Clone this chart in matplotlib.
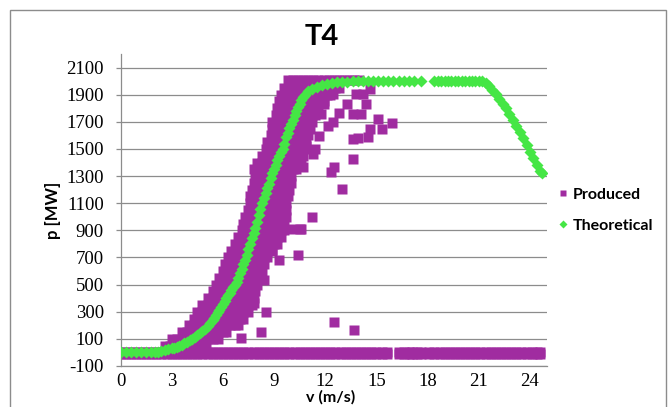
import matplotlib.pyplot as plt
from matplotlib.patches import Rectangle
from matplotlib.lines import Line2D

plt.rcParams['axes.unicode_minus'] = False

#------------------------------------------------------------
# data (v in m/s, p in MW)
x_ticks = [0, 3, 6, 9, 12, 15, 18, 21, 24]
y_ticks = [-100, 100, 300, 500, 700, 900, 1100, 1300, 1500, 1700, 1900, 2100]

# theoretical power curve
theo_v = [0.0, 0.3, 0.6, 0.9, 1.2, 1.5, 1.8, 2.0, 2.2, 2.4, 2.6, 2.8, 3.0,
          3.15, 3.3, 3.45, 3.6, 3.75, 3.9, 4.05, 4.2, 4.35, 4.5, 4.65, 4.8,
          4.95, 5.1, 5.25, 5.4, 5.5, 5.6, 5.7, 5.8, 5.9, 6.0, 6.1, 6.2, 6.3,
          6.4, 6.5, 6.6, 6.7, 6.8, 6.9, 7.0, 7.1,
          7.2, 7.3, 7.4, 7.5, 7.6, 7.7, 7.8, 7.9, 8.0, 8.1, 8.2, 8.3, 8.4, 8.5,
          8.6, 8.7, 8.8, 8.9, 9.0, 9.1, 9.2, 9.3, 9.4, 9.5, 9.6, 9.7, 9.8, 9.9,
          10.0, 10.1, 10.2, 10.3, 10.4, 10.5, 10.6, 10.7, 10.8, 11.0, 11.2, 11.5,
          11.8, 12.1, 12.4, 12.7, 13.0, 13.3, 13.6, 13.9, 14.2, 14.5, 14.8, 15.1,
          15.4, 15.7, 16.0, 16.3, 16.6, 16.9, 17.2, 17.6, 18.4, 18.6, 18.8, 19.0,
          19.2, 19.4, 19.6, 19.8, 20.0, 20.2, 20.4, 20.6, 20.8, 21.0, 21.2, 21.4,
          21.6, 21.8, 22.0, 22.2, 22.4, 22.6, 22.8, 23.0, 23.2, 23.4, 23.6, 23.8,
          24.0, 24.2, 24.4, 24.6, 24.7]
theo_p = [0, 0, 0, 0, 0, 0, 2, 4, 6, 10, 15, 22, 30,
          36, 42, 50, 58, 68, 78, 89, 100, 114, 128, 143, 158,
          175, 192, 215, 240, 257, 275, 295, 315, 335, 355, 378, 400, 420,
          440, 460, 480, 500, 520, 550, 585, 615,
          650, 685, 715, 760, 800, 840, 880, 920, 965, 1010, 1055, 1100, 1135, 1175,
          1210, 1245, 1285, 1320, 1350, 1385, 1420, 1445, 1475, 1500, 1540, 1585, 1620, 1655,
          1685, 1715, 1750, 1780, 1810, 1835, 1860, 1885, 1900, 1925, 1945, 1960,
          1972, 1980, 1986, 1990, 1994, 1997, 2000, 2000, 2000, 2000, 2000, 2000,
          2000, 2000, 2000, 2000, 2000, 2000, 2000, 2000, 2000, 2000, 2000, 2000,
          2000, 2000, 2000, 2000, 2000, 2000, 2000, 2000, 2000, 2000, 2000, 1985,
          1965, 1935, 1905, 1870, 1835, 1800, 1755, 1715, 1670, 1625, 1580, 1530,
          1480, 1430, 1385, 1340, 1320]

# produced power: the zero-output band
zero_v = [0.0, 0.3, 0.6, 0.9, 1.2, 1.5, 1.8, 2.1, 2.4, 2.7, 3.0, 3.3, 3.6, 3.9,
          4.2, 4.5, 4.8, 5.1, 5.4, 5.7, 6.0, 6.3, 6.6, 6.9, 7.2, 7.5, 7.8, 8.1,
          8.4, 8.7, 9.0, 9.3, 9.6, 9.9, 10.2, 10.5, 10.8, 11.1, 11.4, 11.7, 12.0,
          12.3, 12.6, 12.9, 13.2, 13.5, 13.8, 14.1, 14.4, 14.7, 15.0, 15.3, 15.6,
          16.3, 16.6, 16.9, 17.1, 17.4, 17.6, 18.1, 18.4, 18.7, 19.0, 19.3, 19.6,
          19.9, 20.2, 20.5, 20.8, 21.1, 21.4, 21.7, 22.0, 22.3, 22.6, 22.9, 23.2,
          23.5, 23.8, 24.1, 24.4, 24.6]
zero_levels = [2, -12]

# produced power: dense cloud, one row of wind speeds per power level
cloud_levels = [50, 100, 150, 200, 250, 300, 350, 400, 450, 500, 550, 600, 650,
                700, 750, 800, 850, 900, 950, 1000, 1050, 1100, 1150, 1200, 1250,
                1300, 1350, 1400, 1450, 1500, 1550, 1600, 1650, 1700, 1750, 1800,
                1850, 1900, 1950, 2005]
cloud_rows = [
    [2.6, 2.9, 3.2, 3.5, 3.8, 4.1, 4.4, 4.7, 5.0],
    [3.0, 3.3, 3.6, 3.9, 4.2, 4.5, 4.8, 5.1, 5.4, 5.7],
    [3.6, 3.9, 4.2, 4.5, 4.8, 5.1, 5.4, 5.7, 6.0, 6.2],
    [4.0, 4.3, 4.6, 4.9, 5.2, 5.5, 5.8, 6.1, 6.4, 6.7, 6.9],
    [4.3, 4.6, 4.9, 5.2, 5.5, 5.8, 6.1, 6.4, 6.7, 7.0, 7.2],
    [4.5, 4.8, 5.1, 5.4, 5.7, 6.0, 6.3, 6.6, 6.9, 7.2, 7.5],
    [4.8, 5.1, 5.4, 5.7, 6.0, 6.3, 6.6, 6.9, 7.2, 7.5, 7.7],
    [5.1, 5.4, 5.7, 6.0, 6.3, 6.6, 6.9, 7.2, 7.5, 7.8],
    [5.4, 5.7, 6.0, 6.3, 6.6, 6.9, 7.2, 7.5, 7.9],
    [5.6, 5.9, 6.2, 6.5, 6.8, 7.1, 7.4, 7.7, 8.0],
    [5.8, 6.1, 6.4, 6.7, 7.0, 7.3, 7.6, 7.9, 8.2],
    [6.0, 6.3, 6.6, 6.9, 7.2, 7.5, 7.8, 8.1, 8.3],
    [6.1, 6.4, 6.7, 7.0, 7.3, 7.6, 7.9, 8.2, 8.4],
    [6.3, 6.6, 6.9, 7.2, 7.5, 7.8, 8.1, 8.4, 8.6],
    [6.5, 6.8, 7.1, 7.4, 7.7, 8.0, 8.3, 8.6, 8.9],
    [6.7, 7.0, 7.3, 7.6, 7.9, 8.2, 8.5, 8.8, 9.0, 9.2],
    [6.9, 7.2, 7.5, 7.8, 8.1, 8.4, 8.7, 9.0, 9.2, 9.4],
    [7.1, 7.3, 7.6, 7.9, 8.2, 8.5, 8.8, 9.1, 9.4, 9.6],
    [7.2, 7.5, 7.8, 8.1, 8.4, 8.7, 9.0, 9.3, 9.6],
    [7.3, 7.6, 7.9, 8.2, 8.5, 8.8, 9.1, 9.4, 9.7],
    [7.5, 7.8, 8.1, 8.4, 8.7, 9.0, 9.3, 9.5, 9.7],
    [7.6, 7.9, 8.2, 8.5, 8.8, 9.1, 9.4, 9.7],
    [7.6, 7.9, 8.2, 8.5, 8.8, 9.1, 9.4, 9.6, 9.8],
    [7.7, 8.0, 8.3, 8.6, 8.9, 9.2, 9.5, 9.7, 9.9],
    [7.8, 8.1, 8.4, 8.7, 9.0, 9.3, 9.6, 9.8, 10.0],
    [7.9, 8.2, 8.5, 8.8, 9.1, 9.4, 9.7, 10.0],
    [7.8, 8.1, 8.4, 8.7, 9.0, 9.3, 9.6, 9.9, 10.1, 10.3],
    [8.0, 8.3, 8.6, 8.9, 9.2, 9.5, 9.8, 10.1, 10.4, 10.6],
    [8.3, 8.6, 8.9, 9.2, 9.5, 9.8, 10.1, 10.4, 10.7],
    [8.5, 8.8, 9.1, 9.4, 9.7, 10.0, 10.3, 10.6, 10.8],
    [8.6, 8.9, 9.2, 9.5, 9.8, 10.1, 10.4, 10.7, 10.9],
    [8.8, 9.1, 9.4, 9.7, 10.0, 10.3, 10.6, 10.8, 11.0],
    [8.9, 9.2, 9.5, 9.8, 10.1, 10.4, 10.7, 10.9, 11.1],
    [8.9, 9.2, 9.5, 9.8, 10.1, 10.4, 10.7, 11.0, 11.2],
    [9.1, 9.4, 9.7, 10.0, 10.3, 10.6, 10.9, 11.2, 11.4],
    [9.2, 9.5, 9.8, 10.1, 10.4, 10.7, 11.0, 11.3, 11.6],
    [9.3, 9.6, 9.9, 10.2, 10.5, 10.8, 11.1, 11.4, 11.7, 11.9],
    [9.4, 9.7, 10.0, 10.3, 10.6, 10.9, 11.2, 11.5, 11.8, 12.1, 12.3],
    [9.6, 9.9, 10.2, 10.5, 10.8, 11.1, 11.4, 11.7, 12.0, 12.3, 12.6, 12.8],
    [9.8, 10.1, 10.4, 10.7, 11.0, 11.3, 11.6, 11.9, 12.2, 12.5, 12.8, 13.1,
     13.4, 13.7, 14.0],
]

# produced power: scattered points away from the cloud
outlier_v = [12.45, 11.95, 11.76, 12.83, 13.3, 12.15, 12.45, 13.6, 13.8, 14.2,
             14.4, 14.1, 14.6, 15.1, 15.3, 15.9, 14.6, 14.5, 13.6, 13.9, 11.4,
             11.3, 10.9, 11.65, 13.6, 12.5, 12.35, 10.7, 13.0, 11.2, 10.6, 12.5,
             13.7, 7.85, 8.5, 8.25, 7.07, 8.4, 9.3, 10.4, 10.0, 10.5, 8.9]
outlier_p = [1905, 1830, 1758, 1762, 1830, 1672, 1697, 1758, 1905, 1905,
             1830, 1758, 1940, 1722, 1649, 1693, 1649, 1586, 1575, 1582, 1500,
             1463, 1524, 1598, 1427, 1365, 1328, 1365, 1206, 998, 912, 226,
             165, 361, 299, 152, 104, 532, 680, 716, 912, 912, 753]

purple = '#A02CA0'
green = '#45E645'
grey = '#8C8C8C'

#------------------------------------------------------------
W, H = 672, 407
fig = plt.figure(figsize=(W / 100, H / 100), dpi=100)
ax = fig.add_axes([120.5 / W, 1 - 366 / H, (547 - 120.5) / W, (366 - 54) / H])

prod_v, prod_p = [], []
for lvl in zero_levels:
    prod_v += zero_v
    prod_p += [lvl] * len(zero_v)
for lvl, row in zip(cloud_levels, cloud_rows):
    prod_v += row
    prod_p += [lvl] * len(row)
prod_v += outlier_v
prod_p += outlier_p

ax.plot(prod_v, prod_p, ls='none', marker='s', ms=7.4, color=purple,
        mec='none', zorder=2)
ax.plot(theo_v, theo_p, ls='none', marker='D', ms=6.4, color=green,
        mec='none', zorder=3)

ax.set_xlim(0, 25)
ax.set_ylim(-100, 2200)
ax.set_xticks(x_ticks)
ax.set_yticks(y_ticks)
ax.grid(axis='y', color=grey, lw=0.9)
ax.set_axisbelow(True)
for s in ['top', 'right']:
    ax.spines[s].set_visible(False)
for s in ['left', 'bottom']:
    ax.spines[s].set_color(grey)
    ax.spines[s].set_linewidth(0.9)

ax.tick_params(axis='y', length=3.6, width=0.9, color=grey, pad=8.5)
ax.tick_params(axis='x', length=0, pad=5)
for lab in ax.get_xticklabels() + ax.get_yticklabels():
    lab.set_family('Liberation Serif')
    lab.set_fontsize(13.5)

fig.text(322 / W, 1 - 37 / H, 'T4', ha='center', va='center',
         family='Lato', fontweight='bold', fontsize=21)
fig.text(53 / W, 1 - 210 / H, 'p [MW]', ha='center', va='center', rotation=90,
         family='Lato', fontweight='bold', fontsize=12)
fig.text(331 / W, 1 - 397 / H, 'v (m/s)', ha='center', va='center',
         family='Lato', fontweight='bold', fontsize=11.5)

handles = [Line2D([], [], ls='none', marker='s', ms=5, color=purple, mec='none'),
           Line2D([], [], ls='none', marker='D', ms=4.2, color=green, mec='none')]
fig.legend(handles, ['Produced', 'Theoretical'], loc='center left',
           bbox_to_anchor=(544 / W, 1 - 210 / H), frameon=False,
           handlelength=0.6, handletextpad=0.3, labelspacing=1.05,
           prop={'family': 'Lato', 'weight': 'bold', 'size': 11.5})

# chart-area border
fig.patches.append(Rectangle((10 / W, -0.05), (666 - 10) / W, 1.05 - 10 / H,
                             transform=fig.transFigure, fill=False,
                             edgecolor=grey, lw=1))

fig.savefig('out.png', dpi=100)
